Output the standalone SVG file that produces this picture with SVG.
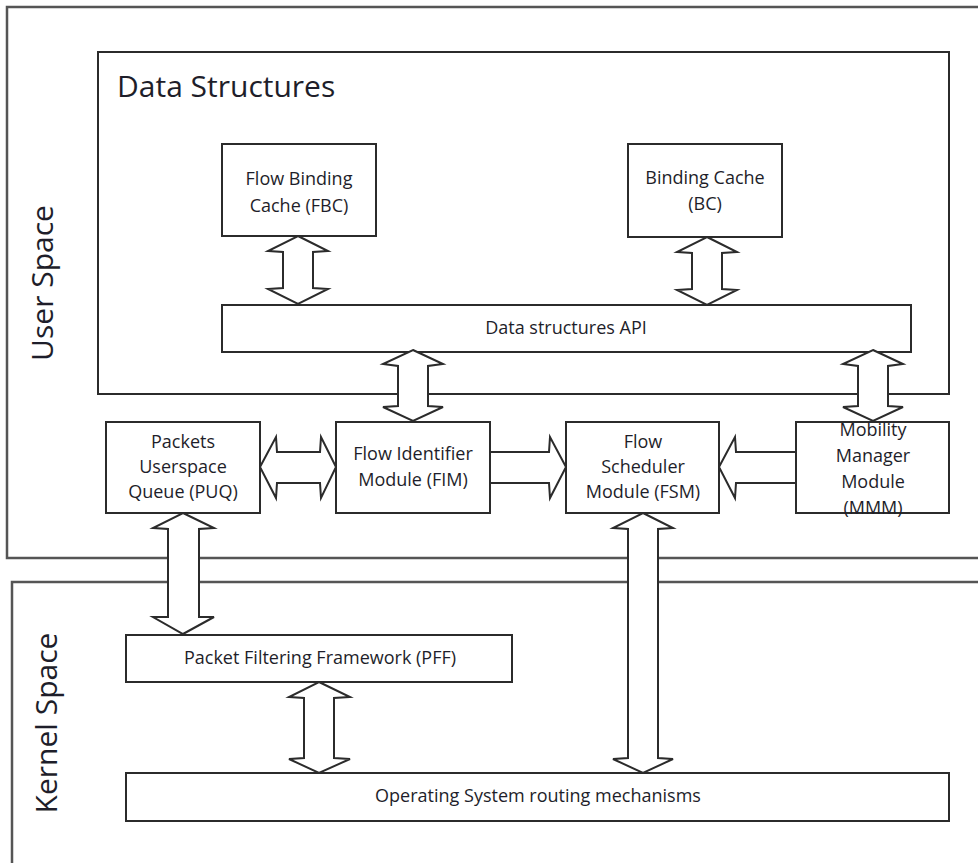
<svg xmlns="http://www.w3.org/2000/svg" width="978" height="863" viewBox="0 0 978 863">
  <style>
    .zone { fill: none; stroke: #555; stroke-width: 2.5; }
    .box { fill: #fff; stroke: #2b2b2b; stroke-width: 2; }
    .arrow { fill: #fff; stroke: #2b2b2b; stroke-width: 2; stroke-linejoin: miter; }
    text { font-family: "Open Sans", "Liberation Sans", sans-serif; fill: #1e1e2a; }
    .big { font-size: 30px; }
    .lbl { font-size: 18px; text-anchor: middle; }
  </style>

  <rect width="978" height="863" fill="#fff"/>

  <!-- address-space zones -->
  <g id="user-space">
    <rect class="zone" x="7" y="7" width="990" height="551"/>
    <text class="big" text-anchor="middle" transform="translate(53,283) rotate(-90)">User Space</text>
  </g>
  <g id="kernel-space">
    <rect class="zone" x="12" y="582" width="990" height="300"/>
    <text class="big" text-anchor="middle" transform="translate(57,723) rotate(-90)">Kernel Space</text>
  </g>

  <g id="data-structures">
    <rect class="box" x="98" y="52" width="851" height="342" fill="none"/>
    <text class="big" x="117" y="97">Data Structures</text>
  </g>

  <!-- nodes -->
  <g id="fbc">
    <rect class="box" x="222" y="144" width="154" height="92"/>
    <text class="lbl" x="299" y="185">Flow Binding</text>
    <text class="lbl" x="299" y="212">Cache (FBC)</text>
  </g>
  <g id="bc">
    <rect class="box" x="628" y="144" width="154" height="93"/>
    <text class="lbl" x="705" y="184">Binding Cache</text>
    <text class="lbl" x="705" y="210">(BC)</text>
  </g>
  <g id="api">
    <rect class="box" x="222" y="305" width="689" height="47"/>
    <text class="lbl" x="566" y="334">Data structures API</text>
  </g>
  <g id="puq">
    <rect class="box" x="106" y="422" width="154" height="91"/>
    <text class="lbl" x="183" y="448">Packets</text>
    <text class="lbl" x="183" y="473">Userspace</text>
    <text class="lbl" x="183" y="498">Queue (PUQ)</text>
  </g>
  <g id="fim">
    <rect class="box" x="336" y="422" width="154" height="91"/>
    <text class="lbl" x="413" y="460">Flow Identifier</text>
    <text class="lbl" x="413" y="486">Module (FIM)</text>
  </g>
  <g id="fsm">
    <rect class="box" x="566" y="422" width="153" height="91"/>
    <text class="lbl" x="643" y="448">Flow</text>
    <text class="lbl" x="643" y="473">Scheduler</text>
    <text class="lbl" x="643" y="498">Module (FSM)</text>
  </g>
  <g id="mmm">
    <rect class="box" x="796" y="422" width="153" height="91"/>
  </g>
  <g id="pff">
    <rect class="box" x="126" y="635" width="386" height="47"/>
    <text class="lbl" x="320" y="664">Packet Filtering Framework (PFF)</text>
  </g>
  <g id="os-routing">
    <rect class="box" x="126" y="773" width="823" height="48"/>
    <text class="lbl" x="538" y="802">Operating System routing mechanisms</text>
  </g>

  <!-- block arrows -->
  <g id="connectors">
    <!-- FBC <-> API -->
    <polygon class="arrow" points="298,236 328,251 313,252 313,288 328,289 298,304 268,289 283,288 283,252 268,251"/>
    <!-- BC <-> API -->
    <polygon class="arrow" points="707,237 737,252 722,253 722,289 737,290 707,305 677,290 692,289 692,253 677,252"/>
    <!-- API <-> FIM -->
    <polygon class="arrow" points="413,350 443,364 428,366 428,406 443,407 413,421 383,407 398,406 398,366 383,364"/>
    <!-- API <-> MMM -->
    <polygon class="arrow" points="873,350 903,364 888,366 888,406 903,407 873,421 843,407 858,406 858,366 843,364"/>
    <!-- PUQ <-> FIM -->
    <polygon class="arrow" points="260,467 276,437 277,452 320,452 321,437 336,467 321,498 320,483 277,483 276,498"/>
    <!-- FIM -> FSM -->
    <polygon class="arrow" points="490,452 549,452 550,437 566,467 550,498 549,483 490,483"/>
    <!-- MMM -> FSM -->
    <polygon class="arrow" points="796,452 736,452 735,437 719,467 735,498 736,483 796,483"/>
    <!-- PUQ <-> PFF -->
    <polygon class="arrow" points="183,513 214,528 199,529 199,617 214,617 183,634 153,617 168,617 168,529 153,528"/>
    <!-- FSM <-> OS routing -->
    <polygon class="arrow" points="643,513 673,528 658,529 658,758 673,759 643,773 613,759 628,758 628,529 613,528"/>
    <!-- PFF <-> OS routing -->
    <polygon class="arrow" points="319,682 350,697 334,698 334,758 350,759 319,773 289,759 304,758 304,698 289,697"/>
  </g>

  <!-- MMM label spills past its box edges -->
  <g id="mmm-label">
    <text class="lbl" x="873" y="436">Mobility</text>
    <text class="lbl" x="873" y="462">Manager</text>
    <text class="lbl" x="873" y="488">Module</text>
    <text class="lbl" x="873" y="514">(MMM)</text>
  </g>
</svg>
